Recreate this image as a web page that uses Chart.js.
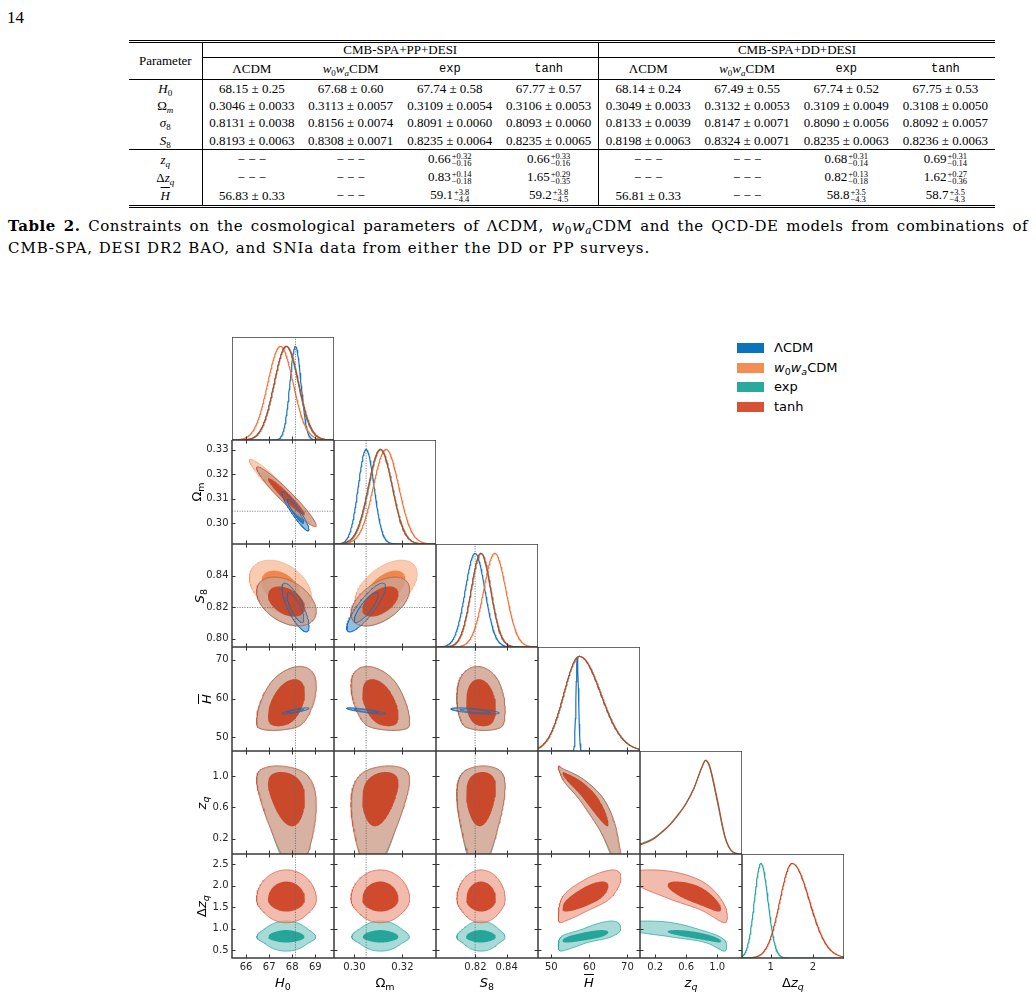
<!DOCTYPE html>
<html>
<head>
<meta charset="utf-8">
<script src="https://cdn.jsdelivr.net/npm/chart.js@4.4.1/dist/chart.umd.min.js"></script>
<style>
  html, body { margin: 0; padding: 0; background: #fff; }
  #page { position: relative; width: 1036px; height: 997px; overflow: hidden; color: #000; }
  .pnum { position: absolute; left: 7px; top: 8px; font: 17px "Liberation Serif", serif; }
  table.tb { position: absolute; left: 129px; top: 40px; width: 866px; border-collapse: collapse; table-layout: fixed;
    font: 13px "Liberation Serif", serif; line-height: 14px; border-top: 3px double #000; border-bottom: 3px double #000; }
  table.tb td { padding: 0; text-align: center; white-space: nowrap; vertical-align: middle; }
  table.tb sub { font-size: 9px; vertical-align: -2.5px; line-height: 0; }
  .vl { border-left: 1px solid #000; }
  .tt { font: 12px "Liberation Mono", monospace; }
  .ss { display: inline-block; vertical-align: -3.5px; font-size: 8.5px; line-height: 7.5px; text-align: left; margin-left: 1px; }
  .rule td { border-bottom: 1px solid #000; }
  .cap { position: absolute; left: 8px; top: 215px; width: 1020px; font: 15px "DejaVu Serif", serif; line-height: 22px; letter-spacing: 0.5px; }
  .cap .l1 { text-align: justify; text-align-last: justify; white-space: nowrap; }
  .cap .l2 { letter-spacing: 0.9px; white-space: nowrap; }
  .cap sub { font-size: 10.5px; vertical-align: -3px; line-height: 0; }
  .leg { position: absolute; left: 737px; width: 120px; height: 10px; font: 13px "DejaVu Sans", sans-serif; }
  .leg .sw { position: absolute; left: 0; top: 0; width: 27px; height: 10px; }
  .leg .lt { position: absolute; left: 37px; top: -4px; line-height: 18px; white-space: nowrap; }
  .leg sub { font-size: 9.5px; vertical-align: -3px; line-height: 0; }
  .ax { position: absolute; font: 13px "DejaVu Sans", sans-serif; white-space: nowrap; line-height: 16px; }
  .ax sub { font-size: 9.5px; vertical-align: -3px; line-height: 0; }
  .ob { text-decoration: overline; }
  canvas { position: absolute; }
</style>
</head>
<body>
<div id="page">
  <div class="pnum">14</div>
  <table class="tb" id="tb">
    <colgroup><col style="width:73px"><col span="8" style="width:99.1px"></colgroup>
  </table>
  <div class="cap">
    <div class="l1"><b>Table 2.</b> Constraints on the cosmological parameters of ΛCDM, <i>w</i><sub>0</sub><i>w</i><sub><i>a</i></sub>CDM and the QCD-DE models from combinations of</div>
    <div class="l2">CMB-SPA, DESI DR2 BAO, and SNIa data from either the DD or PP surveys.</div>
  </div>
  <div class="leg" style="top:343px"><span class="sw" style="background:#0a73bb"></span><span class="lt">ΛCDM</span></div>
  <div class="leg" style="top:363px"><span class="sw" style="background:#f28e55"></span><span class="lt"><i>w</i><sub>0</sub><i>w</i><sub><i>a</i></sub>CDM</span></div>
  <div class="leg" style="top:382px"><span class="sw" style="background:#29a89c"></span><span class="lt">exp</span></div>
  <div class="leg" style="top:402px"><span class="sw" style="background:#d55235"></span><span class="lt">tanh</span></div>
</div>
<script>
// ---------------- table text ----------------
const TABLE_PARAMS = ['<i>H</i><sub>0</sub>', 'Ω<sub><i>m</i></sub>', '<i>σ</i><sub>8</sub>', '<i>S</i><sub>8</sub>',
  '<i>z</i><sub><i>q</i></sub>', 'Δ<i>z</i><sub><i>q</i></sub>', '<span class="ob"><i>H</i></span>'];
const TABLE_VALUES = [
  ['68.15 ± 0.25', '67.68 ± 0.60', '67.74 ± 0.58', '67.77 ± 0.57', '68.14 ± 0.24', '67.49 ± 0.55', '67.74 ± 0.52', '67.75 ± 0.53'],
  ['0.3046 ± 0.0033', '0.3113 ± 0.0057', '0.3109 ± 0.0054', '0.3106 ± 0.0053', '0.3049 ± 0.0033', '0.3132 ± 0.0053', '0.3109 ± 0.0049', '0.3108 ± 0.0050'],
  ['0.8131 ± 0.0038', '0.8156 ± 0.0074', '0.8091 ± 0.0060', '0.8093 ± 0.0060', '0.8133 ± 0.0039', '0.8147 ± 0.0071', '0.8090 ± 0.0056', '0.8092 ± 0.0057'],
  ['0.8193 ± 0.0063', '0.8308 ± 0.0071', '0.8235 ± 0.0064', '0.8235 ± 0.0065', '0.8198 ± 0.0063', '0.8324 ± 0.0071', '0.8235 ± 0.0063', '0.8236 ± 0.0063'],
  ['-', '-', '0.66|+0.32|−0.16', '0.66|+0.33|−0.16', '-', '-', '0.68|+0.31|−0.14', '0.69|+0.31|−0.14'],
  ['-', '-', '0.83|+0.14|−0.18', '1.65|+0.29|−0.35', '-', '-', '0.82|+0.13|−0.18', '1.62|+0.27|−0.36'],
  ['56.83 ± 0.33', '-', '59.1|+3.8|−4.4', '59.2|+3.8|−4.5', '56.81 ± 0.33', '-', '58.8|+3.5|−4.3', '58.7|+3.5|−4.3']
];
const TABLE_MODELS = ['ΛCDM', '<i>w</i><sub>0</sub><i>w</i><sub><i>a</i></sub>CDM', '<span class="tt">exp</span>', '<span class="tt">tanh</span>'];
const ROW_HEIGHTS = [17.5, 17.5, 17.5, 17.5, 19.5, 17.5, 20];

// ---------------- corner plot: axes ----------------
// parameter order: H0, Omega_m, S8, Hbar, z_q, Delta z_q
const PARAM_MIN = [65.39, 0.2915, 0.7948, 46.5, 0.006, 0.32];
const PARAM_MAX = [69.81, 0.3340, 0.8600, 73.3, 1.318, 2.74];
const X_TICKS = [[66, 67, 68, 69], [0.30, 0.32], [0.82, 0.84], [50, 60, 70], [0.2, 0.6, 1.0], [1, 2]];
const Y_TICKS = [[66, 67, 68, 69], [0.30, 0.31, 0.32, 0.33], [0.80, 0.82, 0.84], [50, 60, 70], [0.2, 0.6, 1.0], [0.5, 1.0, 1.5, 2.0, 2.5]];
const X_DEC = [0, 2, 2, 0, 1, 0];
const Y_DEC = [0, 2, 2, 0, 1, 1];
const REF_VALUES = [68.14, 0.3049, 0.8198];   // dotted lines (LCDM)
const AXIS_HTML = ['<i>H</i><sub>0</sub>', 'Ω<sub>m</sub>', '<i>S</i><sub>8</sub>', '<span class="ob"><i>H</i></span>',
  '<i>z</i><sub><i>q</i></sub>', 'Δ<i>z</i><sub><i>q</i></sub>'];

// ---------------- corner plot: constraints (CMB-SPA+DD+DESI) ----------------
const LCDM_MEAN = [68.14, 0.3049, 0.8198, 56.81, null, null];
const LCDM_SIGMA = [0.24, 0.0033, 0.0063, 0.33, null, null];
const W0WA_MEAN = [67.49, 0.3132, 0.8324, null, null, null];
const W0WA_SIGMA = [0.55, 0.0053, 0.0071, null, null, null];
const EXP_MEAN = [67.74, 0.3109, 0.8235, null, null, null];
const EXP_SIGMA = [0.52, 0.0049, 0.0063, null, null, null];
const TANH_MEAN = [67.75, 0.3108, 0.8236, null, null, null];
const TANH_SIGMA = [0.53, 0.0050, 0.0063, null, null, null];

// skewed 1D marginals: [peak, lower width, upper width]
const EXP_HBAR_1D = [57.4, 4.1, 5.6];
const TANH_HBAR_1D = [57.4, 4.1, 5.6];
const EXP_DZQ_1D = [0.77, 0.156, 0.167];
const TANH_DZQ_1D = [1.51, 0.29, 0.41];
// z_q marginal
const ZQ_GRID = [0.0, 0.1, 0.2, 0.3, 0.4, 0.5, 0.6, 0.7, 0.8, 0.85, 0.9, 1.0, 1.1, 1.2, 1.3];
const EXP_ZQ_PDF = [0.105, 0.135, 0.18, 0.245, 0.325, 0.425, 0.545, 0.705, 0.925, 1.0, 0.93, 0.56, 0.17, 0.02, 0.0];
const TANH_ZQ_PDF = [0.097, 0.126, 0.17, 0.24, 0.32, 0.42, 0.54, 0.70, 0.92, 1.0, 0.945, 0.585, 0.185, 0.022, 0.0];

// 2D contour extents for non-gaussian parameters: [95% lo, 68% lo, centre, 68% hi, 95% hi]
const EXP_HBAR_2D = [51.8, 52.9, 58.5, 65.0, 68.2];
const TANH_HBAR_2D = [51.8, 52.9, 58.5, 65.0, 68.3];
const EXP_ZQ_2D = [-0.2, 0.36, 0.82, 1.05, 1.12];
const TANH_ZQ_2D = [-0.15, 0.36, 0.82, 1.05, 1.13];
const EXP_DZQ_2D = [0.48, 0.68, 0.81, 0.97, 1.18];
const TANH_DZQ_2D = [1.14, 1.40, 1.70, 2.10, 2.37];

// correlations, panel order [row, col]
const PAIRS = [[1, 0], [2, 0], [2, 1], [3, 0], [3, 1], [3, 2], [4, 0], [4, 1], [4, 2], [4, 3], [5, 0], [5, 1], [5, 2], [5, 3], [5, 4]];
const CORR_LCDM = [-0.93, -0.78, 0.85, 0.85, -0.85, -0.65];
const CORR_W0WA = [-0.96, -0.35, 0.5];
const CORR_EXP = [-0.96, -0.4, 0.5, 0.45, -0.45, -0.15, -0.3, 0.3, 0.1, -0.95, 0, 0, 0, 0.72, -0.82];
const CORR_TANH = [-0.96, -0.4, 0.5, 0.45, -0.45, -0.15, -0.3, 0.3, 0.1, -0.95, 0, 0, 0, 0.75, -0.8];

// ---------------- build table ----------------
(function buildTable() {
  const tb = document.getElementById('tb');
  const cell = s => {
    if (s === '-') return '− − −';
    if (s.includes('|')) {
      const [v, up, lo] = s.split('|');
      return v + '<span class="ss">' + up + '<br>' + lo + '</span>';
    }
    return s;
  };
  let h = '<tr style="height:13px"><td rowspan="2" style="border-bottom:1px solid #000">Parameter</td>' +
    '<td colspan="4" class="vl" style="border-bottom:1px solid #000">CMB-SPA+PP+DESI</td>' +
    '<td colspan="4" class="vl" style="border-bottom:1px solid #000">CMB-SPA+DD+DESI</td></tr>';
  h += '<tr style="height:22px">' + [0, 1, 2, 3, 4, 5, 6, 7].map(i =>
    '<td' + (i % 4 === 0 ? ' class="vl"' : '') + ' style="border-bottom:1px solid #000">' + TABLE_MODELS[i % 4] + '</td>').join('') + '</tr>';
  TABLE_VALUES.forEach((row, r) => {
    h += '<tr' + (r === 3 ? ' class="rule"' : '') + ' style="height:' + ROW_HEIGHTS[r] + 'px"><td>' + TABLE_PARAMS[r] + '</td>' +
      row.map((s, i) => '<td' + (i % 4 === 0 ? ' class="vl"' : '') + '>' + cell(s) + '</td>').join('') + '</tr>';
  });
  tb.insertAdjacentHTML('beforeend', h);
})();

// ---------------- contour machinery ----------------
const K68 = 1.515, K95 = 2.448;
const U_KNOTS = [-K95, -K68, 0, K68, K95];

function monotoneWarp(vals) {
  const n = vals.length, d = [], m = [];
  for (let i = 0; i < n - 1; i++) d.push((vals[i + 1] - vals[i]) / (U_KNOTS[i + 1] - U_KNOTS[i]));
  m[0] = d[0]; m[n - 1] = d[n - 2];
  for (let i = 1; i < n - 1; i++) m[i] = d[i - 1] * d[i] <= 0 ? 0 : 2 / (1 / d[i - 1] + 1 / d[i]);
  return u => {
    if (u <= U_KNOTS[0]) return vals[0] + m[0] * (u - U_KNOTS[0]);
    if (u >= U_KNOTS[n - 1]) return vals[n - 1] + m[n - 1] * (u - U_KNOTS[n - 1]);
    let i = 0;
    while (u > U_KNOTS[i + 1]) i++;
    const hh = U_KNOTS[i + 1] - U_KNOTS[i], t = (u - U_KNOTS[i]) / hh, t2 = t * t, t3 = t2 * t;
    return (2 * t3 - 3 * t2 + 1) * vals[i] + (t3 - 2 * t2 + t) * hh * m[i] +
      (-2 * t3 + 3 * t2) * vals[i + 1] + (t3 - t2) * hh * m[i + 1];
  };
}

const MODELS = {
  lcdm: { mean: LCDM_MEAN, sigma: LCDM_SIGMA, knots: [], skew: [], zq: null, corr: CORR_LCDM,
    line: '#1a74bf', c95: 'rgba(0,114,189,0.45)', c68: 'rgba(0,114,189,0.75)', edge: 'rgba(25,110,185,0.9)' },
  w0wa: { mean: W0WA_MEAN, sigma: W0WA_SIGMA, knots: [], skew: [], zq: null, corr: CORR_W0WA,
    line: '#f0743a', c95: 'rgba(242,142,85,0.45)', c68: 'rgba(238,122,58,0.85)', edge: 'rgba(240,130,80,0.5)' },
  exp: { mean: EXP_MEAN, sigma: EXP_SIGMA, knots: [null, null, null, EXP_HBAR_2D, EXP_ZQ_2D, EXP_DZQ_2D],
    skew: [null, null, null, EXP_HBAR_1D, null, EXP_DZQ_1D], zq: EXP_ZQ_PDF, corr: CORR_EXP,
    line: '#24a79a', c95: 'rgba(38,166,154,0.4)', c68: 'rgb(38,166,154)', edge: 'rgba(38,166,154,0.9)' },
  tanh: { mean: TANH_MEAN, sigma: TANH_SIGMA, knots: [null, null, null, TANH_HBAR_2D, TANH_ZQ_2D, TANH_DZQ_2D],
    skew: [null, null, null, TANH_HBAR_1D, null, TANH_DZQ_1D], zq: TANH_ZQ_PDF, corr: CORR_TANH,
    line: '#c8461f', c95: 'rgba(235,160,140,0.7)', c68: 'rgba(205,65,35,0.92)', edge: 'rgba(215,85,55,0.85)' }
};
const ORDER_1D = ['lcdm', 'w0wa', 'exp', 'tanh'];
const ORDER_2D = ['w0wa', 'lcdm', 'exp', 'tanh'];

function warp(md, p) {
  if (md.knots[p]) return monotoneWarp(md.knots[p]);
  if (md.mean[p] != null) { const m = md.mean[p], s = md.sigma[p]; return u => m + s * u; }
  return null;
}

function curve1D(md, p) {
  if (p === 4) return md.zq ? ZQ_GRID.map((z, i) => ({ x: z, y: md.zq[i] })) : null;
  let spec = md.skew[p];
  if (!spec && md.mean[p] != null) spec = [md.mean[p], md.sigma[p], md.sigma[p]];
  if (!spec) return null;
  const pts = [], lo = PARAM_MIN[p], hi = PARAM_MAX[p];
  for (let i = 0; i <= 240; i++) {
    const x = lo + (hi - lo) * i / 240;
    const s = x < spec[0] ? spec[1] : spec[2];
    pts.push({ x, y: Math.exp(-0.5 * Math.pow((x - spec[0]) / s, 2)) });
  }
  return pts;
}

function ellipse(wx, wy, rho, k) {
  const pts = [], s = Math.sqrt(1 - rho * rho);
  for (let i = 0; i <= 140; i++) {
    const t = 2 * Math.PI * i / 140, a = Math.cos(t), b = Math.sin(t);
    pts.push({ x: wx(k * a), y: wy(k * (rho * a + s * b)) });
  }
  return pts;
}

// ---------------- panel layout ----------------
const COL_LEFT = [232, 334, 436, 538, 640, 742];
const PANEL_W = 102;
const ROW_TOP = [337, 440, 544, 647, 751, 854];
const ROW_BOTTOM = [440, 544, 647, 751, 854, 958];
const LEFT_W = 47, BOTTOM_H = 39, TICK_LEN = 3.5;
const YLAB_X = [0, 197, 200, 207, 202, 202];

const page = document.getElementById('page');
const tickFont = { family: 'DejaVu Sans', size: 10 };

function refLine(points) {
  return { data: points, showLine: true, fill: false, borderColor: '#6a6a6a', borderWidth: 0.8,
    borderDash: [1.2, 1.3], pointRadius: 0 };
}

function framePlugin(xt, yt, diag) {
  return {
    id: 'frame',
    afterDatasetsDraw(chart) {
      const { ctx, chartArea: a, scales } = chart;
      ctx.save();
      ctx.strokeStyle = '#333';
      ctx.lineWidth = 1;
      ctx.beginPath();
      xt.forEach(v => {
        const p = Math.round(scales.x.getPixelForValue(v)) + 0.5;
        ctx.moveTo(p, a.bottom); ctx.lineTo(p, a.bottom - TICK_LEN);
        if (!diag) { ctx.moveTo(p, a.top); ctx.lineTo(p, a.top + TICK_LEN); }
      });
      if (!diag) yt.forEach(v => {
        const p = Math.round(scales.y.getPixelForValue(v)) + 0.5;
        ctx.moveTo(a.left, p); ctx.lineTo(a.left + TICK_LEN, p);
        ctx.moveTo(a.right, p); ctx.lineTo(a.right - TICK_LEN, p);
      });
      ctx.stroke();
      ctx.strokeStyle = '#3a3a3a';
      ctx.lineWidth = 1.5;
      ctx.strokeRect(a.left, a.top, a.right - a.left, a.bottom - a.top);
      ctx.restore();
    }
  };
}

function makePanel(r, c) {
  const diag = r === c;
  const showY = c === 0 && r > 0;
  const showX = r === 5;
  const left = COL_LEFT[c] - (showY ? LEFT_W : 0);
  const w = PANEL_W + (showY ? LEFT_W : 0);
  const h = ROW_BOTTOM[r] - ROW_TOP[r] + (showX ? BOTTOM_H : 0);
  const cv = document.createElement('canvas');
  cv.width = w; cv.height = h;
  cv.style.left = left + 'px'; cv.style.top = ROW_TOP[r] + 'px';
  cv.style.width = w + 'px'; cv.style.height = h + 'px';
  page.appendChild(cv);

  // pushed bottom-to-top; reversed below because Chart.js paints dataset 0 last
  const datasets = [];
  if (diag) {
    ORDER_1D.forEach(k => {
      const pts = curve1D(MODELS[k], c);
      if (!pts) return;
      datasets.push({ data: pts, showLine: true, fill: false, borderColor: MODELS[k].line, borderWidth: 1.2,
        pointRadius: 0, cubicInterpolationMode: c === 4 ? 'monotone' : 'default' });
    });
    if (c < 3) datasets.push(refLine([{ x: REF_VALUES[c], y: 0 }, { x: REF_VALUES[c], y: 1.1 }]));
  } else {
    const idx = PAIRS.findIndex(q => q[0] === r && q[1] === c);
    const outlines = [];
    ORDER_2D.forEach(k => {
      const md = MODELS[k];
      const wx = warp(md, c), wy = warp(md, r), rho = md.corr[idx];
      if (!wx || !wy || rho === undefined) return;
      const p95 = ellipse(wx, wy, rho, K95), p68 = ellipse(wx, wy, rho, K68);
      datasets.push({ data: p95, showLine: true, fill: 'shape', backgroundColor: md.c95, borderColor: md.edge,
        borderWidth: 0.8, pointRadius: 0 });
      datasets.push({ data: p68, showLine: true, fill: 'shape', backgroundColor: md.c68, borderColor: md.c68,
        borderWidth: 0, pointRadius: 0 });
      if (k === 'lcdm') outlines.push(p95, p68);
    });
    outlines.forEach(p => datasets.push({ data: p, showLine: true, fill: false, borderColor: MODELS.lcdm.edge,
      borderWidth: 0.9, pointRadius: 0 }));
    if (c < 3) datasets.push(refLine([{ x: REF_VALUES[c], y: PARAM_MIN[r] }, { x: REF_VALUES[c], y: PARAM_MAX[r] }]));
    if (r < 3) datasets.push(refLine([{ x: PARAM_MIN[c], y: REF_VALUES[r] }, { x: PARAM_MAX[c], y: REF_VALUES[r] }]));
  }
  datasets.reverse();

  const zeroPad = s => { s.paddingLeft = 0; s.paddingRight = 0; s.paddingTop = 0; s.paddingBottom = 0; };
  const xScale = {
    type: 'linear', min: PARAM_MIN[c], max: PARAM_MAX[c], display: showX,
    afterBuildTicks: s => { s.ticks = X_TICKS[c].map(v => ({ value: v })); },
    grid: { display: false, drawTicks: false }, border: { display: false },
    ticks: { padding: 3, maxRotation: 0, autoSkip: false, color: '#262626', font: tickFont,
      callback: v => Number(v).toFixed(X_DEC[c]) }
  };
  if (showX) xScale.afterFit = s => { s.height = BOTTOM_H; zeroPad(s); };
  const yScale = {
    type: 'linear', min: diag ? 0 : PARAM_MIN[r], max: diag ? 1.1 : PARAM_MAX[r], display: showY,
    afterBuildTicks: s => { s.ticks = (diag ? [] : Y_TICKS[r]).map(v => ({ value: v })); },
    grid: { display: false, drawTicks: false }, border: { display: false },
    ticks: { padding: 3.5, autoSkip: false, color: '#262626', font: tickFont,
      callback: v => Number(v).toFixed(Y_DEC[r]) }
  };
  if (showY) yScale.afterFit = s => { s.width = LEFT_W; zeroPad(s); };

  new Chart(cv, {
    type: 'scatter',
    data: { datasets },
    options: {
      responsive: false, animation: false, devicePixelRatio: 1, events: [],
      layout: { padding: 0 },
      elements: { point: { radius: 0 }, line: { tension: 0 } },
      plugins: { legend: { display: false }, tooltip: { enabled: false } },
      scales: { x: xScale, y: yScale }
    },
    plugins: [framePlugin(X_TICKS[c], diag ? [] : Y_TICKS[r], diag)]
  });
}

for (let r = 0; r < 6; r++) for (let c = 0; c <= r; c++) makePanel(r, c);

// axis titles
function axisTitle(html, cx, cy, rot) {
  const d = document.createElement('div');
  d.className = 'ax';
  d.innerHTML = html;
  d.style.left = cx + 'px'; d.style.top = cy + 'px';
  d.style.transform = 'translate(-50%,-50%)' + (rot ? ' rotate(-90deg)' : '');
  page.appendChild(d);
}
for (let c = 0; c < 6; c++) axisTitle(AXIS_HTML[c], COL_LEFT[c] + PANEL_W / 2, 983, false);
for (let r = 1; r < 6; r++) axisTitle(AXIS_HTML[r], YLAB_X[r], (ROW_TOP[r] + ROW_BOTTOM[r]) / 2, true);
</script>
</body>
</html>
